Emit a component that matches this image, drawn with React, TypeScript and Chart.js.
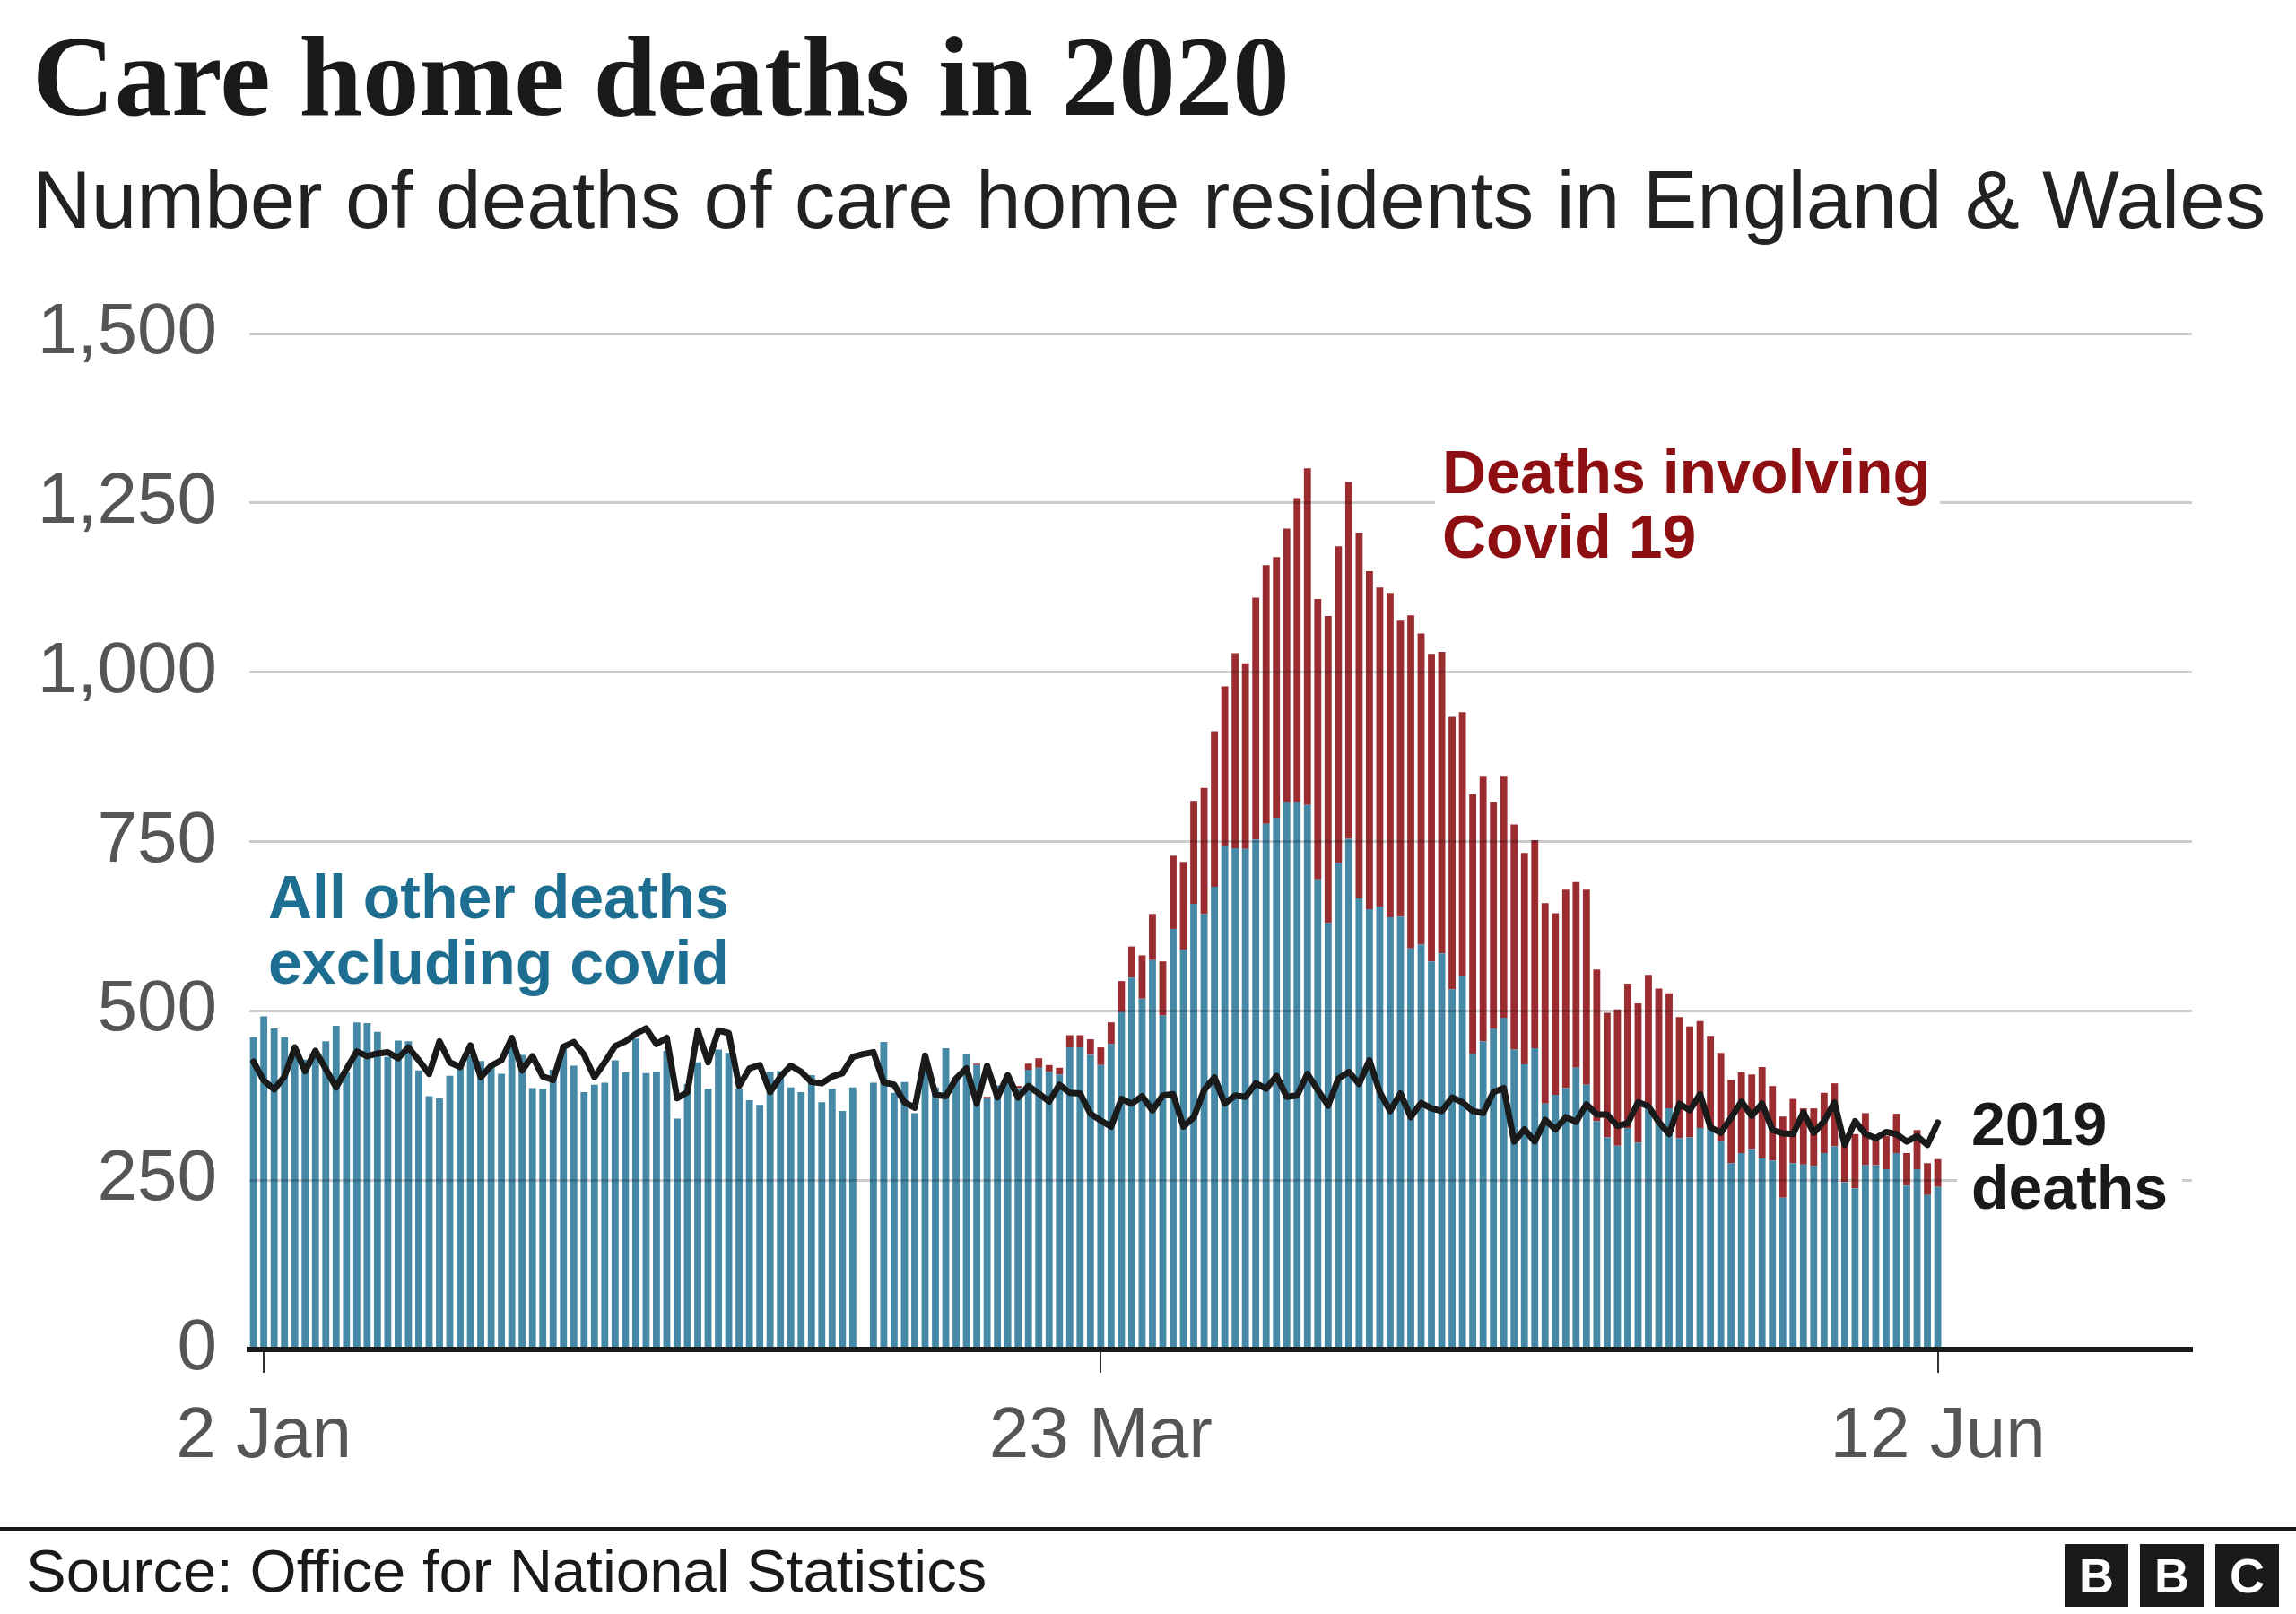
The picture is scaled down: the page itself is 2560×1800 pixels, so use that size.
import React, { useEffect, useRef } from 'react';
import { Chart, registerables } from 'chart.js';

Chart.register(...registerables);

// Day index 0 = 1 Jan 2020 ... 163 = 12 Jun 2020 (index 59 = 29 Feb, no bar)
const xTickIndex = [1, 82, 163];
const xTickLabels = ['2 Jan', '23 Mar', '12 Jun'];
const yTickValues = [0, 250, 500, 750, 1000, 1250, 1500];
const yTickLabels = ['0', '250', '500', '750', '1,000', '1,250', '1,500'];

const otherDeaths = [
  461, 492, 474, 461, 437, 428, 434, 455, 478, 409,
  483, 482, 469, 432, 456, 455, 412, 374, 371, 404,
  416, 434, 426, 420, 407, 449, 435, 386, 385, 413,
  449, 419, 380, 391, 394, 427, 409, 459, 408, 410,
  441, 341, 392, 424, 385, 443, 438, 385, 368, 361,
  410, 411, 387, 380, 405, 365, 385, 352, 387, null,
  394, 454, 379, 395, 349, 425, 387, 445, 401, 436,
  420, 371, 390, 395, 386, 413, 416, 410, 406, 446,
  446, 435, 420, 451, 498, 549, 518, 575, 493, 621,
  590, 658, 643, 683, 743, 740, 739, 753, 776, 785,
  809, 809, 804, 694, 630, 719, 754, 666, 650, 654,
  638, 639, 592, 598, 573, 585, 532, 552, 436, 455,
  474, 490, 443, 421, 445, 363, 376, 386, 416, 391,
  337, 313, 301, 327, 305, 357, 334, 356, 312, 313,
  327, 326, 308, 275, 290, 296, 282, 279, 224, 275,
  273, 271, 290, 300, 247, 238, 272, 272, 266, 290,
  242, 266, 228, 240,
];

const covidDeaths = [
  0, 0, 0, 0, 0, 0, 0, 0, 0, 0,
  0, 0, 0, 0, 0, 0, 0, 0, 0, 0,
  0, 0, 0, 0, 0, 0, 0, 0, 0, 0,
  0, 0, 0, 0, 0, 0, 0, 0, 0, 0,
  0, 0, 0, 0, 0, 0, 0, 0, 0, 0,
  0, 0, 0, 0, 0, 0, 0, 0, 0, 0,
  0, 0, 0, 0, 0, 0, 0, 0, 1, 0,
  2, 2, 0, 0, 3, 9, 14, 10, 10, 18,
  18, 23, 26, 32, 46, 46, 64, 68, 80, 108,
  130, 152, 186, 230, 236, 288, 274, 357, 382, 385,
  403, 448, 497, 414, 453, 467, 527, 540, 499, 471,
  479, 437, 492, 459, 454, 445, 402, 389, 384, 392,
  335, 357, 332, 312, 307, 296, 268, 293, 274, 288,
  224, 184, 201, 213, 206, 196, 199, 170, 179, 164,
  158, 137, 130, 123, 119, 110, 135, 110, 120, 95,
  83, 85, 89, 93, 68, 80, 77, 42, 49, 58,
  48, 58, 47, 41,
];

const deaths2019 = [
  425, 397, 384, 403, 446, 411, 441, 414, 387, 414,
  440, 433, 437, 439, 430, 446, 427, 407, 455, 424,
  417, 449, 402, 419, 427, 460, 412, 433, 403, 398,
  447, 454, 435, 402, 424, 448, 455, 466, 474, 451,
  460, 371, 380, 471, 424, 471, 467, 389, 415, 420,
  380, 403, 419, 410, 395, 393, 403, 408, 432, 436,
  439, 394, 391, 365, 357, 434, 376, 374, 400, 415,
  363, 419, 372, 405, 372, 389, 378, 366, 391, 379,
  378, 348, 338, 329, 370, 363, 374, 353, 375, 377,
  329, 343, 383, 402, 363, 375, 373, 393, 385, 404,
  373, 375, 407, 383, 360, 400, 410, 392, 427, 380,
  352, 378, 343, 364, 356, 352, 372, 365, 352, 349,
  380, 386, 307, 325, 307, 339, 325, 343, 336, 362,
  347, 347, 330, 334, 365, 359, 336, 318, 363, 353,
  377, 328, 320, 342, 366, 345, 363, 324, 319, 318,
  350, 320, 337, 365, 302, 337, 318, 312, 321, 318,
  307, 315, 302, 335,
];

const SANS = '"Liberation Sans", Arial, sans-serif';
const SERIF = '"Liberation Serif", "Times New Roman", serif';

export default function App() {
  const canvasRef = useRef<HTMLCanvasElement>(null);

  useEffect(() => {
    const canvas = canvasRef.current;
    if (!canvas) return;
    const toPoints = (arr: (number | null)[]) => arr.map((v, i) => ({ x: i, y: v }));
    const chart = new Chart(canvas, {
      type: 'bar',
      data: {
        datasets: [
          {
            type: 'line',
            label: '2019 deaths',
            data: toPoints(deaths2019),
            borderColor: '#1a1a1a',
            borderWidth: 7,
            pointRadius: 0,
            tension: 0,
            stack: 'line2019',
            order: 0,
            borderJoinStyle: 'round',
            borderCapStyle: 'round',
          } as any,
          {
            type: 'bar',
            label: 'All other deaths excluding covid',
            data: toPoints(otherDeaths),
            backgroundColor: 'rgb(69,137,167)',
            stack: 'bars',
            order: 1,
            categoryPercentage: 1,
            barPercentage: 0.68,
          } as any,
          {
            type: 'bar',
            label: 'Deaths involving Covid 19',
            data: toPoints(covidDeaths),
            backgroundColor: 'rgb(155,45,49)',
            stack: 'bars',
            order: 1,
            categoryPercentage: 1,
            barPercentage: 0.68,
          } as any,
        ],
      },
      options: {
        animation: false,
        responsive: false,
        maintainAspectRatio: false,
        layout: { padding: { top: 372, right: 116, bottom: 95, left: 0 } },
        plugins: {
          legend: { display: false },
          tooltip: { enabled: false },
        },
        scales: {
          x: {
            type: 'linear',
            min: -0.4,
            max: 187.6,
            stacked: true,
            offset: false,
            afterBuildTicks: (s: any) => {
              s.ticks = xTickIndex.map((v) => ({ value: v }));
            },
            afterFit: (s: any) => {
              s.height = 200;
            },
            ticks: {
              callback: (_v: any, i: number) => xTickLabels[i],
              font: { family: SANS, size: 80 },
              color: '#555555',
              padding: 24,
              maxRotation: 0,
              autoSkip: false,
            },
            grid: {
              offset: false,
              drawOnChartArea: false,
              drawTicks: true,
              tickLength: 26,
              color: '#333333',
              lineWidth: 2,
            },
            border: { display: true, color: '#1a1a1a', width: 6, z: 1 },
          },
          y: {
            type: 'linear',
            min: 0,
            max: 1500,
            stacked: true,
            afterBuildTicks: (s: any) => {
              s.ticks = yTickValues.map((v) => ({ value: v }));
            },
            afterFit: (s: any) => {
              s.width = 278;
            },
            ticks: {
              callback: (_v: any, i: number) => yTickLabels[i],
              font: { family: SANS, size: 80 },
              color: '#555555',
              padding: 36,
            },
            grid: {
              drawTicks: false,
              lineWidth: 3,
              color: (c: any) => (c.tick && c.tick.value === 0 ? 'rgba(0,0,0,0)' : 'rgba(0,0,0,0.2)'),
              z: 1,
            },
            border: { display: false },
          },
        },
      },
    });
    return () => chart.destroy();
  }, []);

  const abs = (s: React.CSSProperties): React.CSSProperties => ({ position: 'absolute', whiteSpace: 'nowrap', ...s });

  return (
    <div style={{ position: 'fixed', left: 0, top: 0, width: 2560, height: 1800, background: '#ffffff', overflow: 'hidden' }}>
      <canvas ref={canvasRef} width={2560} height={1800} style={{ position: 'absolute', left: 0, top: 0, width: 2560, height: 1800 }} />
      <div style={abs({ left: 36, top: 22, font: `bold 127px ${SERIF}`, lineHeight: '127px', color: '#1a1a1a' })}>
        Care home deaths in 2020
      </div>
      <div style={abs({ left: 36, top: 177, font: `91px ${SANS}`, lineHeight: '91px', color: '#222222' })}>
        Number of deaths of care home residents in England &amp; Wales
      </div>
      <div style={abs({ left: 299, top: 964, font: `bold 68px ${SANS}`, lineHeight: '73px', color: '#1d6e91' })}>
        All other deaths<br />excluding covid
      </div>
      <div style={abs({ left: 1600, top: 488, padding: '2px 11px 6px 8px', font: `bold 68px ${SANS}`, lineHeight: '72px', color: '#8d0f12', background: '#ffffff' })}>
        Deaths involving<br />Covid 19
      </div>
      <div style={abs({ left: 2182, top: 1216, padding: '2px 16px 6px 16px', font: `bold 68px ${SANS}`, lineHeight: '71px', color: '#1a1a1a', background: '#ffffff' })}>
        2019<br />deaths
      </div>
      <div style={abs({ left: 0, top: 1703, width: 2560, height: 4, background: '#1a1a1a' })} />
      <div style={abs({ left: 29, top: 1718, font: `67px ${SANS}`, lineHeight: '67px', color: '#1a1a1a' })}>
        Source: Office for National Statistics
      </div>
      {['B', 'B', 'C'].map((ch, i) => (
        <div
          key={i}
          style={abs({
            left: 2302 + i * 84,
            top: 1722,
            width: 71,
            height: 70,
            background: '#1a1a1a',
            color: '#ffffff',
            font: `bold 54px ${SANS}`,
            lineHeight: '70px',
            textAlign: 'center',
          })}
        >
          {ch}
        </div>
      ))}
    </div>
  );
}
